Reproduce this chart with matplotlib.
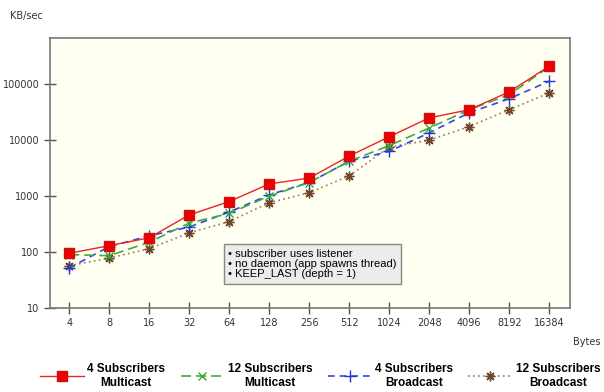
import numpy as np
import matplotlib.pyplot as plt

sizes = ['4', '8', '16', '32', '64', '128', '256', '512', '1024', '2048', '4096', '8192', '16384']
sub4_multicast = [95, 130, 180, 460, 800, 1650, 2100, 5200, 11500, 25000, 35000, 73000, 210000]
sub12_multicast = [90, 86, 150, 330, 490, 1000, 1750, 4200, 8000, 16500, 35000, 65000, 205000]
sub4_broadcast = [52, 125, 195, 280, 520, 1050, 1750, 4200, 6300, 13500, 31000, 55000, 113000]
sub12_broadcast = [57, 78, 115, 220, 350, 760, 1150, 2300, 7500, 10000, 17500, 35000, 70000]

labels = ['4 Subscribers\nMulticast', '12 Subscribers\nMulticast',
          '4 Subscribers\nBroadcast', '12 Subscribers\nBroadcast']

fig = plt.figure(figsize=(6.04, 3.92), dpi=100)
ax = fig.add_axes([50 / 604, 1 - 308 / 392, 520 / 604, 270 / 392])
ax.set_facecolor('#fffff2')

x = np.arange(len(sizes))
ax.plot(x, sub4_multicast, color='#ee2222', lw=1, marker='s', ms=7,
        mfc='#ee0000', mec='#cc1111', label=labels[0], zorder=5)
ax.plot(x, sub12_multicast, color='#44aa44', lw=1.2, ls=(0, (6, 3)), marker='x',
        ms=6, mec='#33aa33', label=labels[1], zorder=4)
ax.plot(x, sub4_broadcast, color='#3344ee', lw=1.2, ls=(0, (4, 3)), marker='+',
        ms=8, mec='#2233dd', label=labels[2], zorder=3)
ax.plot(x, sub12_broadcast, color='#9a7a5a', lw=1.2, ls=(0, (1, 2)), marker=(8, 2, 0),
        ms=7, mec='#704828', label=labels[3], zorder=2)

ax.set_yscale('log')
ax.set_ylim(10, 6.7e5)
ax.set_xlim(-0.48, 12.52)
ax.set_xticks(x)
ax.set_xticklabels(sizes)
ax.set_yticks([10, 100, 1000, 10000, 100000])
ax.set_yticklabels(['10', '100', '1000', '10000', '100000'])
ax.minorticks_off()
ax.tick_params(axis='both', direction='inout', length=8, width=1, color='#555555',
               labelsize=7, labelcolor='#333333')
ax.tick_params(axis='x', pad=3)
for s in ax.spines.values():
    s.set_color('#777777')
    s.set_linewidth(1.2)

fig.text(10 / 604, 1 - 16 / 392, 'KB/sec', fontsize=7, color='#333333', va='center')
fig.text(601 / 604, 1 - 342 / 392, 'Bytes', fontsize=7, color='#333333', va='center', ha='right')

ax.text(3.98, 115, '• subscriber uses listener\n• no daemon (app spawns thread)\n• KEEP_LAST (depth = 1)',
        fontsize=8, family='Liberation Sans', va='top', ha='left', linespacing=1.05,
        bbox=dict(boxstyle='square,pad=0.4', fc='#ececec', ec='#888888', lw=1))

leg = fig.legend(loc='center', bbox_to_anchor=(0.53, 1 - 376 / 392), ncol=4, frameon=False,
                 handlelength=3.7, columnspacing=1.3, handletextpad=0.3, borderpad=0.2,
                 prop={'family': 'Liberation Sans', 'weight': 'bold', 'size': 8.5})
for t in leg.get_texts():
    t.set_multialignment('center')

fig.savefig('out.png', dpi=100)
